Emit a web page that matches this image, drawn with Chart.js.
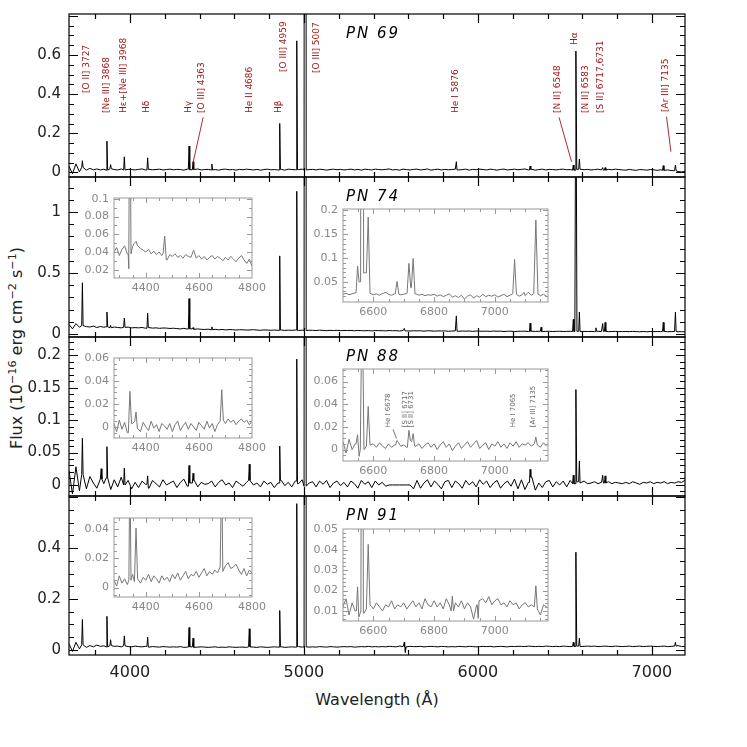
<!DOCTYPE html>
<html><head><meta charset="utf-8">
<script src="https://cdn.jsdelivr.net/npm/chart.js@4.4.1/dist/chart.umd.min.js"></script>
<style>
html,body{margin:0;padding:0;background:#fff;}
#stage{position:relative;width:747px;height:747px;overflow:hidden;font-family:'DejaVu Sans',sans-serif;background:#fff;}
canvas{position:absolute;}
.pn{position:absolute;font-style:italic;font-size:15px;letter-spacing:2px;color:#000;white-space:nowrap;line-height:18px;}
#ytitle{position:absolute;left:17px;top:348px;transform:translate(-50%,-50%) rotate(-90deg);white-space:nowrap;font-size:16px;color:#222;line-height:20px;}
#ytitle sup{font-size:0.7em;vertical-align:0.5em;line-height:0;}
#xtitle{position:absolute;left:227px;top:690px;width:300px;text-align:center;font-size:16px;color:#222;white-space:nowrap;}
</style></head><body>
<div id="stage">
<div id="ytitle">Flux (10<sup>−16</sup> erg cm<sup>−2</sup> s<sup>−1</sup>)</div>
<div id="xtitle">Wavelength (Å)</div>
</div>
<script>
// ---------------- DATA ----------------
// Main spectra: continuum sampled every 20 Å from 3650 Å, in units of 1e-3 (x 1e-16 erg cm-2 s-1)
const MAIN_START = 3650, MAIN_STEP = 20;
// Insets: continuum sampled every 10 Å (left insets from 4280 Å, right insets from 6500 Å), in 1e-3 units
const LEFT_START = 4280, RIGHT_START = 6500, INSET_STEP = 10;

const PN69_CONT = [
 32,-6,44,3,26,12,21,14,18,13,
 17,12,19,15,13,18,13,16,15,13,
 16,18,13,16,14,15,17,13,15,17,
 14,16,15,12,17,14,15,18,13,15,
 16,13,15,12,16,17,14,15,12,16,
 14,17,15,13,16,12,15,17,14,15,
 13,16,12,17,15,14,15,17,13,15,
 16,13,17,15,12,15,17,14,16,13,
 15,17,13,16,12,17,15,13,17,15,
 14,16,18,13,15,12,17,15,13,16,
 17,13,15,18,12,15,17,13,16,14,
 15,17,13,15,17,12,16,14,17,15,
 13,17,15,12,16,17,13,15,17,14,
 16,18,13,16,12,15,17,13,16,15,
 13,16,17,14,15,12,16,17,14,16,
 13,15,17,13,12,16,14,17,15,13,
 12,16,13,11,15,14,12,15,14,11,
 14,11,13,10,9,5,3,5];
const PN74_CONT = [
 78,42,85,55,68,60,57,64,53,61,
 55,59,51,57,53,50,54,56,50,52,
 50,53,47,52,48,50,46,49,48,45,
 47,44,41,46,40,42,38,41,38,37,
 39,35,38,34,37,33,36,35,32,35,
 34,32,33,35,32,30,33,32,30,32,
 30,32,29,31,30,32,29,31,28,30,
 30,28,31,29,27,30,28,30,27,29,
 28,29,26,29,27,26,28,25,28,27,
 27,25,28,26,27,24,28,25,24,26,
 25,26,23,26,25,23,25,24,25,22,
 24,25,22,24,23,24,21,24,23,22,
 23,21,24,22,23,20,22,23,20,22,
 22,23,20,22,21,22,19,21,22,20,
 21,22,20,21,22,20,21,20,21,20,
 21,19,22,20,21,19,20,21,19,20,
 20,19,21,19,18,20,18,20,19,20,
 19,21,18,19,20,18,19,17];
const PN88_CONT = [
 22,-14,28,-9,16,-6,13,3,-5,9,
 2,11,-7,8,-3,12,0,7,-6,4,
 -4,6,1,-5,7,2,-3,8,0,3,
 6,-4,4,9,-2,3,7,-3,4,1,
 2,6,-3,4,8,0,3,-4,6,2,
 -2,4,7,0,3,-3,6,1,4,-4,
 3,7,-1,4,-3,6,2,8,-2,3,
 5,-3,6,1,7,-4,3,6,-1,4,
 -3,6,2,-5,7,1,5,-4,6,0,
 4,-2,0,0,0,0,0,0,0,-6,
 7,-5,3,8,-3,6,1,-6,5,7,
 -4,6,2,-5,7,0,5,-3,8,1,
 6,-4,3,7,-5,2,6,-2,9,-6,
 8,-7,4,12,-8,3,-4,5,7,-3,
 5,0,6,-3,7,2,5,3,6,2,
 3,5,2,4,3,5,2,4,3,2,
 4,2,5,3,1,4,3,5,2,4,
 3,5,2,4,3,5,4,7];
const PN91_CONT = [
 24,-6,30,4,20,10,17,12,19,14,
 16,12,17,14,15,12,16,13,12,15,
 13,12,14,11,13,12,11,13,12,11,
 12,11,13,10,11,12,10,11,12,11,
 10,11,12,10,11,10,12,11,10,11,
 11,10,12,11,10,12,11,10,11,12,
 11,12,10,11,12,11,13,11,12,11,
 12,11,13,12,11,13,12,11,12,13,
 12,13,11,12,13,12,14,12,13,12,
 13,12,14,13,12,15,13,12,14,13,
 13,14,12,13,14,13,12,14,13,12,
 13,12,14,13,12,14,13,12,13,14,
 13,14,12,13,14,13,12,14,13,14,
 14,13,15,14,13,14,13,15,14,13,
 14,13,15,14,13,14,15,13,14,15,
 14,15,13,14,15,14,13,15,14,13,
 14,15,13,14,15,13,14,15,14,13,
 14,15,13,14,15,17,13,14];

// Emission lines: [wavelength Å, peak flux, optional half-width Å]
const PN69_LINES = [[3727,0.060],[3868,0.160],[3889,0.040],[3968,0.080],[4102,0.075],[4340,0.135],[4363,0.055],[4471,0.043],[4861,0.250],[4959,0.672],[5007,20,6],[5876,0.055],[6300,0.033],[6548,0.038],[6563,0.620,5],[6583,0.069],[6717,0.025],[6731,0.025],[7065,0.035],[7135,0.038]];
const PN74_LINES = [[3727,0.42],[3868,0.18],[3889,0.07],[3968,0.13],[4102,0.17],[4340,0.29],[4363,0.052],[4471,0.058],[4861,0.64],[4959,1.17],[5007,30,6],[5577,0.045],[5876,0.148],[6300,0.088],[6363,0.055],[6548,0.12],[6563,2.5,6],[6583,0.18],[6678,0.05],[6717,0.085],[6731,0.095],[7065,0.095],[7135,0.178]];
const PN88_LINES = [[3727,0.072],[3835,0.025],[3868,0.059],[3968,0.026],[4102,0.014],[4340,0.030],[4363,0.018],[4686,0.032],[4861,0.060],[4959,0.194],[5007,10,6],[6300,0.024],[6548,0.015],[6563,0.147,5],[6583,0.037],[6717,0.015],[6731,0.014]];
const PN91_LINES = [[3727,0.12],[3868,0.132],[3889,0.04],[3968,0.055],[4102,0.05],[4340,0.088],[4363,0.046],[4686,0.083],[4861,0.155],[4959,0.575],[5007,20,6],[5577,0.03],[5583,-0.01],[6548,0.03],[6563,0.384,5],[6583,0.046],[7135,0.03]];

const PN74_INSET_L = [40,45,36,43,47,38,38,46,50,47, 44,42,40,43,38,41,37,40,36,38, 31,37,35,38,34,36,33,37,35,34, 42,33,36,32,35,31,34,36,32,35, 33,30,34,31,35,32,29,33,36,31, 27,32,24];
const PN74_INSET_L_LINES = [[4335,0.021,1.5],[4340,0.29,4],[4363,0.052,6],[4471,0.058,6]];
const PN74_INSET_R = [24,26,23,25,27,50,50,69,69,26, 23,25,22,26,28,24,22,25,24,23, 24,26,38,38,25,22,24,21,23,22, 24,20,23,19,22,25,18,21,17,22, 14,20,23,16,21,18,24,19,22,20, 23,18,21,24,19,22,25,24,20,23, 21,28,22,25,24,21,24,20];
const PN74_INSET_R_LINES = [[6548,0.083,5],[6563,2.5,5],[6583,0.186,6],[6638,0.028,4],[6678,0.051,6],[6717,0.089,6],[6731,0.099,6],[7065,0.097,6],[7096,0.028,4],[7135,0.18,7]];
const PN88_INSET_L = [3,-4,6,-2,4,-5,0,3,5,-1, -4,4,0,-3,5,-1,2,-4,3,1, -2,3,-4,2,5,-3,1,4,-2,3, 0,-3,4,1,-2,5,-1,3,-4,2, 5,6,3,7,4,6,2,5,7,4, 6,2,5];
const PN88_INSET_L_LINES = [[4340,0.031,6],[4363,0.013,5],[4686,0.0324,6]];
const PN88_INSET_R = [7,-3,9,0,5,-6,0,0,3,4, 5,2,6,3,1,5,2,4,6,3, 4,2,8,7,3,5,1,4,6,2, 5,0,4,7,2,5,-1,3,6,1, 4,7,2,5,8,1,4,6,0,5, 3,7,2,5,1,6,3,7,2,5, 4,6,3,5,4,2,6,3];
const PN88_INSET_R_LINES = [[6548,0.013,5],[6563,0.147,6],[6583,0.038,6],[6678,0.008,5],[6717,0.017,5],[6731,0.014,5],[7135,0.011,5]];
const PN91_INSET_L = [5,1,8,3,6,2,5,9,4,6, 3,7,5,9,4,8,6,3,8,5, 7,4,9,6,10,5,8,11,6,9, 8,11,7,10,13,8,11,9,12,10, 14,11,15,17,13,14,16,12,9,13, 8,12,10];
const PN91_INSET_L_LINES = [[4340,0.088,4],[4363,0.0407,6],[4686,0.083,4]];
const PN91_INSET_R = [12,16,8,14,10,7,10,9,11,13, 11,14,12,10,13,12,15,11,13,12, 14,11,13,15,12,14,11,16,13,12, 15,12,14,11,16,13,10,14,12,15, 11,14,12,6,13,15,16,14,17,13, 15,16,13,14,12,15,13,14,11,13, 14,12,13,12,11,8,13,12];
const PN91_INSET_R_LINES = [[6548,0.0218,4],[6563,0.384,4],[6583,0.0426,6],[6860,0.0173,4],[6945,0.0064,3],[7135,0.0223,5]];

// Tick labels
const MAIN_X_LABELS = [4000,5000,6000,7000];
const P1_Y_LABELS = [0,0.2,0.4,0.6];
const P2_Y_LABELS = [0,0.5,1];
const P3_Y_LABELS = [0,0.05,0.1,0.15,0.2];
const P4_Y_LABELS = [0,0.2,0.4];
const INSET_L_X_LABELS = [4400,4600,4800];
const INSET_R_X_LABELS = [6600,6800,7000];
const P2L_Y_LABELS = [0.02,0.04,0.06,0.08,0.1];
const P2R_Y_LABELS = [0.05,0.1,0.15,0.2];
const P3L_Y_LABELS = [0,0.02,0.04,0.06];
const P3R_Y_LABELS = [0,0.02,0.04,0.06];
const P4L_Y_LABELS = [0,0.02,0.04];
const P4R_Y_LABELS = [0.01,0.02,0.03,0.04,0.05];

const PANEL_NAMES = ['PN 69','PN 74','PN 88','PN 91'];

// Line identifications (top panel): [text, label wavelength, flux at text start]
const P1_IDS = [
 ['[O II] 3727',3753,0.406],['[Ne III] 3868',3868,0.304],['Hε+[Ne III] 3968',3966,0.304],
 ['Hδ',4099,0.304],['Hγ',4335,0.304],['[O III] 4363',4412,0.304],['He II 4686',4686,0.304],
 ['Hβ',4852,0.304],['[O III] 4959',4881,0.513],['[O III] 5007',5076,0.508],['He I 5876',5874,0.304],
 ['[N II] 6548',6458,0.304],['Hα',6557,0.651],['[N II] 6583',6621,0.304],['[S II] 6717,6731',6705,0.304],
 ['[Ar III] 7135',7079,0.309]];
const P1_LEADERS = [[4421,0.282,4360,0.038],[6466,0.282,6538,0.055],[7084,0.285,7109,0.106]];
const P3R_IDS = [['He I 6678',6650,0.0196],['[S II] 6717',6705,0.0196],['[S II] 6731',6724,0.0196],['He I 7065',7062,0.0196],['[Ar III] 7135',7125,0.0196]];
const P3R_LEADERS = [[6665,0.0178,6676,0.0098]];

// ---------------- BUILD ----------------
function spectrum(start, step, contMilli, lines, hwDef) {
  const cont = contMilli.map(v => v / 1000);
  const near = lam => cont[Math.min(cont.length - 1, Math.max(0, Math.round((lam - start) / step)))];
  const pts = [];
  cont.forEach((v, i) => {
    const lam = start + i * step;
    if (!lines.some(l => Math.abs(lam - l[0]) <= (l[2] || hwDef))) pts.push({x: lam, y: v});
  });
  lines.forEach(l => {
    const hw = l[2] || hwDef;
    pts.push({x: l[0] - hw, y: near(l[0] - hw)}, {x: l[0], y: l[1]}, {x: l[0] + hw, y: near(l[0] + hw)});
  });
  pts.sort((a, b) => a.x - b.x);
  return pts;
}
function tickList(from, to, step, majorEvery, majLen, minLen) {
  const out = [];
  const n = Math.round((to - from) / step);
  for (let i = 0; i <= n; i++) {
    const v = +(from + i * step).toFixed(6);
    const isMaj = Math.abs(v / majorEvery - Math.round(v / majorEvery)) < 1e-6;
    out.push([v, isMaj ? majLen : minLen]);
  }
  return out;
}
const fmt = v => String(+(+v).toFixed(4));
const stage = document.getElementById('stage');

function makeDeco(o) {
  return {
    id: 'deco',
    beforeDatasetsDraw(chart) {
      if (!o.white) return;
      const a = chart.chartArea, ctx = chart.ctx;
      ctx.save(); ctx.fillStyle = '#fff';
      ctx.fillRect(a.left, a.top, a.right - a.left, a.bottom - a.top);
      ctx.restore();
    },
    afterDatasetsDraw(chart) {
      const {ctx, chartArea: a} = chart;
      const xs = chart.scales.x, ys = chart.scales.y;
      ctx.save();
      ctx.strokeStyle = o.frameColor; ctx.lineWidth = o.frameLw;
      ctx.beginPath();
      o.xTicks.forEach(([v, len]) => {
        const p = Math.round(xs.getPixelForValue(v)) + 0.5;
        if (p < a.left + 1 || p > a.right - 1) return;
        ctx.moveTo(p, a.bottom); ctx.lineTo(p, a.bottom - len);
        ctx.moveTo(p, a.top); ctx.lineTo(p, a.top + len);
      });
      o.yTicks.forEach(([v, len]) => {
        const p = Math.round(ys.getPixelForValue(v)) + 0.5;
        if (p < a.top + 1 || p > a.bottom - 1) return;
        ctx.moveTo(a.left, p); ctx.lineTo(a.left + len, p);
        ctx.moveTo(a.right, p); ctx.lineTo(a.right - len, p);
      });
      ctx.stroke();
      ctx.strokeRect(a.left, a.top, a.right - a.left, a.bottom - a.top);
      if (o.ids) {
        ctx.fillStyle = o.ids.color; ctx.strokeStyle = o.ids.color; ctx.lineWidth = 0.9;
        ctx.font = o.ids.font;
        ctx.textAlign = 'left'; ctx.textBaseline = 'middle';
        o.ids.list.forEach(([t, lam, f]) => {
          ctx.save();
          ctx.translate(xs.getPixelForValue(lam), ys.getPixelForValue(f));
          ctx.rotate(-Math.PI / 2);
          ctx.fillText(t, 0, 0);
          ctx.restore();
        });
        ctx.beginPath();
        o.ids.leaders.forEach(([l1, f1, l2, f2]) => {
          ctx.moveTo(xs.getPixelForValue(l1), ys.getPixelForValue(f1));
          ctx.lineTo(xs.getPixelForValue(l2), ys.getPixelForValue(f2));
        });
        ctx.stroke();
      }
      ctx.restore();
    }
  };
}

function buildChart(o, W, H) {
  const sp = o.space;
  const cv = document.createElement('canvas');
  cv.width = W; cv.height = H;
  cv.style.width = W + 'px'; cv.style.height = H + 'px';
  stage.appendChild(cv);
  const chart = new Chart(cv, {
    type: 'line',
    data: {datasets: [{data: o.data, borderColor: o.color, borderWidth: o.lw, pointRadius: 0, tension: 0, fill: false}]},
    options: {
      responsive: false, animation: false, events: [], devicePixelRatio: 1,
      layout: {padding: {left: 0, right: sp.r, top: sp.t, bottom: 0}},
      plugins: {legend: {display: false}, tooltip: {enabled: false}},
      scales: {
        x: {type: 'linear', min: o.x[0], max: o.x[1], bounds: 'data',
            grid: {display: false, drawTicks: false}, border: {display: false},
            ticks: {display: o.showX, padding: o.xPad, color: o.labelColor, font: {family: 'DejaVu Sans', size: o.xFont}, maxRotation: 0, autoSkip: false, callback: v => fmt(v)},
            afterBuildTicks: s => { s.ticks = o.xLabels.map(v => ({value: v})); },
            afterFit: s => { s.height = sp.b; }},
        y: {type: 'linear', min: o.y[0], max: o.y[1], bounds: 'data',
            grid: {display: false, drawTicks: false}, border: {display: false},
            ticks: {display: true, padding: o.yPad, color: o.labelColor, font: {family: 'DejaVu Sans', size: o.yFont}, autoSkip: false, callback: v => fmt(v)},
            afterBuildTicks: s => { s.ticks = o.yLabels.map(v => ({value: v})); },
            afterFit: s => { s.width = sp.l; }}
      }
    },
    plugins: [makeDeco(o)]
  });
  return {cv, chart};
}

function makeChart(o) {
  const sp = o.space;
  const tw = o.area[2] - o.area[0], th = o.area[3] - o.area[1];
  let W = tw + sp.l + sp.r, H = th + sp.t + sp.b;
  let built = buildChart(o, W, H);
  for (let k = 0; k < 4; k++) {
    const a = built.chart.chartArea;
    const dw = tw - (a.right - a.left), dh = th - (a.bottom - a.top);
    if (Math.abs(dw) < 0.25 && Math.abs(dh) < 0.25) break;
    built.chart.destroy(); built.cv.remove();
    W = Math.round(W + dw); H = Math.round(H + dh);
    built = buildChart(o, W, H);
  }
  const a = built.chart.chartArea;
  built.cv.style.left = (o.area[0] - a.left) + 'px';
  built.cv.style.top = (o.area[1] - a.top) + 'px';
  return built.chart;
}

const MAIN_X = [3650, 7190];
const mainXTicks = tickList(3800, 7000, 200, 1000, 9, 5);
const PANELS = [
  {area: [69, 14, 685, 177], y: [-0.023, 0.809], cont: PN69_CONT, lines: PN69_LINES, yl: P1_Y_LABELS, yt: tickList(0, 0.8, 0.05, 0.2, 9, 5)},
  {area: [69, 177, 685, 337], y: [-0.025, 1.287], cont: PN74_CONT, lines: PN74_LINES, yl: P2_Y_LABELS, yt: tickList(0, 1.2, 0.1, 0.5, 9, 5)},
  {area: [69, 337, 685, 496], y: [-0.017, 0.228], cont: PN88_CONT, lines: PN88_LINES, yl: P3_Y_LABELS, yt: tickList(-0.01, 0.22, 0.01, 0.05, 9, 5)},
  {area: [69, 496, 685, 655], y: [-0.02, 0.605], cont: PN91_CONT, lines: PN91_LINES, yl: P4_Y_LABELS, yt: tickList(0, 0.6, 0.05, 0.2, 9, 5)}
];
PANELS.forEach((p, i) => {
  makeChart({
    area: p.area, x: MAIN_X, y: p.y,
    data: spectrum(MAIN_START, MAIN_STEP, p.cont, p.lines, 4),
    color: '#000', lw: 1, frameColor: '#000', frameLw: 1.2, labelColor: '#222',
    xLabels: MAIN_X_LABELS, yLabels: p.yl, xTicks: mainXTicks, yTicks: p.yt,
    showX: i === 3, xFont: 16, yFont: 15, xPad: 8, yPad: 8,
    space: {l: 69, r: 30, t: 24, b: i === 3 ? 32 : 24},
    ids: i === 0 ? {list: P1_IDS, leaders: P1_LEADERS, color: '#a31515', font: '9px "DejaVu Sans"'} : null
  });
  const d = document.createElement('div');
  d.className = 'pn';
  d.textContent = PANEL_NAMES[i];
  d.style.left = '346px';
  d.style.top = (p.area[1] + 10) + 'px';
  stage.appendChild(d);
});

const INSETS = [
  {area: [114, 198, 252, 278], x: [4280, 4800], y: [0.0106, 0.101], start: LEFT_START, cont: PN74_INSET_L, lines: PN74_INSET_L_LINES, xl: INSET_L_X_LABELS, yl: P2L_Y_LABELS, yt: tickList(0.02, 0.1, 0.01, 0.02, 5, 3)},
  {area: [343, 209, 548, 302], x: [6500, 7175], y: [0.0078, 0.203], start: RIGHT_START, cont: PN74_INSET_R, lines: PN74_INSET_R_LINES, xl: INSET_R_X_LABELS, yl: P2R_Y_LABELS, yt: tickList(0.01, 0.2, 0.01, 0.05, 5, 3)},
  {area: [114, 358, 252, 438], x: [4280, 4800], y: [-0.0096, 0.06], start: LEFT_START, cont: PN88_INSET_L, lines: PN88_INSET_L_LINES, xl: INSET_L_X_LABELS, yl: P3L_Y_LABELS, yt: tickList(-0.005, 0.06, 0.005, 0.02, 5, 3)},
  {area: [343, 369, 548, 461], x: [6500, 7175], y: [-0.0101, 0.0711], start: RIGHT_START, cont: PN88_INSET_R, lines: PN88_INSET_R_LINES, xl: INSET_R_X_LABELS, yl: P3R_Y_LABELS, yt: tickList(-0.01, 0.07, 0.005, 0.02, 5, 3),
   ids: {list: P3R_IDS, leaders: P3R_LEADERS, color: '#666', font: '7px "DejaVu Sans"'}},
  {area: [114, 518, 252, 597], x: [4280, 4800], y: [-0.0065, 0.0476], start: LEFT_START, cont: PN91_INSET_L, lines: PN91_INSET_L_LINES, xl: INSET_L_X_LABELS, yl: P4L_Y_LABELS, yt: tickList(-0.005, 0.045, 0.005, 0.02, 5, 3)},
  {area: [343, 529, 548, 621], x: [6500, 7175], y: [0.0051, 0.0501], start: RIGHT_START, cont: PN91_INSET_R, lines: PN91_INSET_R_LINES, xl: INSET_R_X_LABELS, yl: P4R_Y_LABELS, yt: tickList(0.006, 0.05, 0.002, 0.01, 5, 3)}
];
INSETS.forEach(p => {
  makeChart({
    area: p.area, x: p.x, y: p.y,
    data: spectrum(p.start, INSET_STEP, p.cont, p.lines, 6),
    color: '#777', lw: 1, frameColor: '#999', frameLw: 1, labelColor: '#888',
    xLabels: p.xl, yLabels: p.yl,
    xTicks: p.x[0] === 4280 ? tickList(4300, 4800, 50, 200, 5, 3) : tickList(6500, 7150, 50, 200, 5, 3),
    yTicks: p.yt, showX: true, xFont: 11, yFont: 11, xPad: 4, yPad: 5,
    space: {l: 40, r: 24, t: 16, b: 20}, white: true,
    ids: p.ids || null
  });
});
</script>
</body></html>
